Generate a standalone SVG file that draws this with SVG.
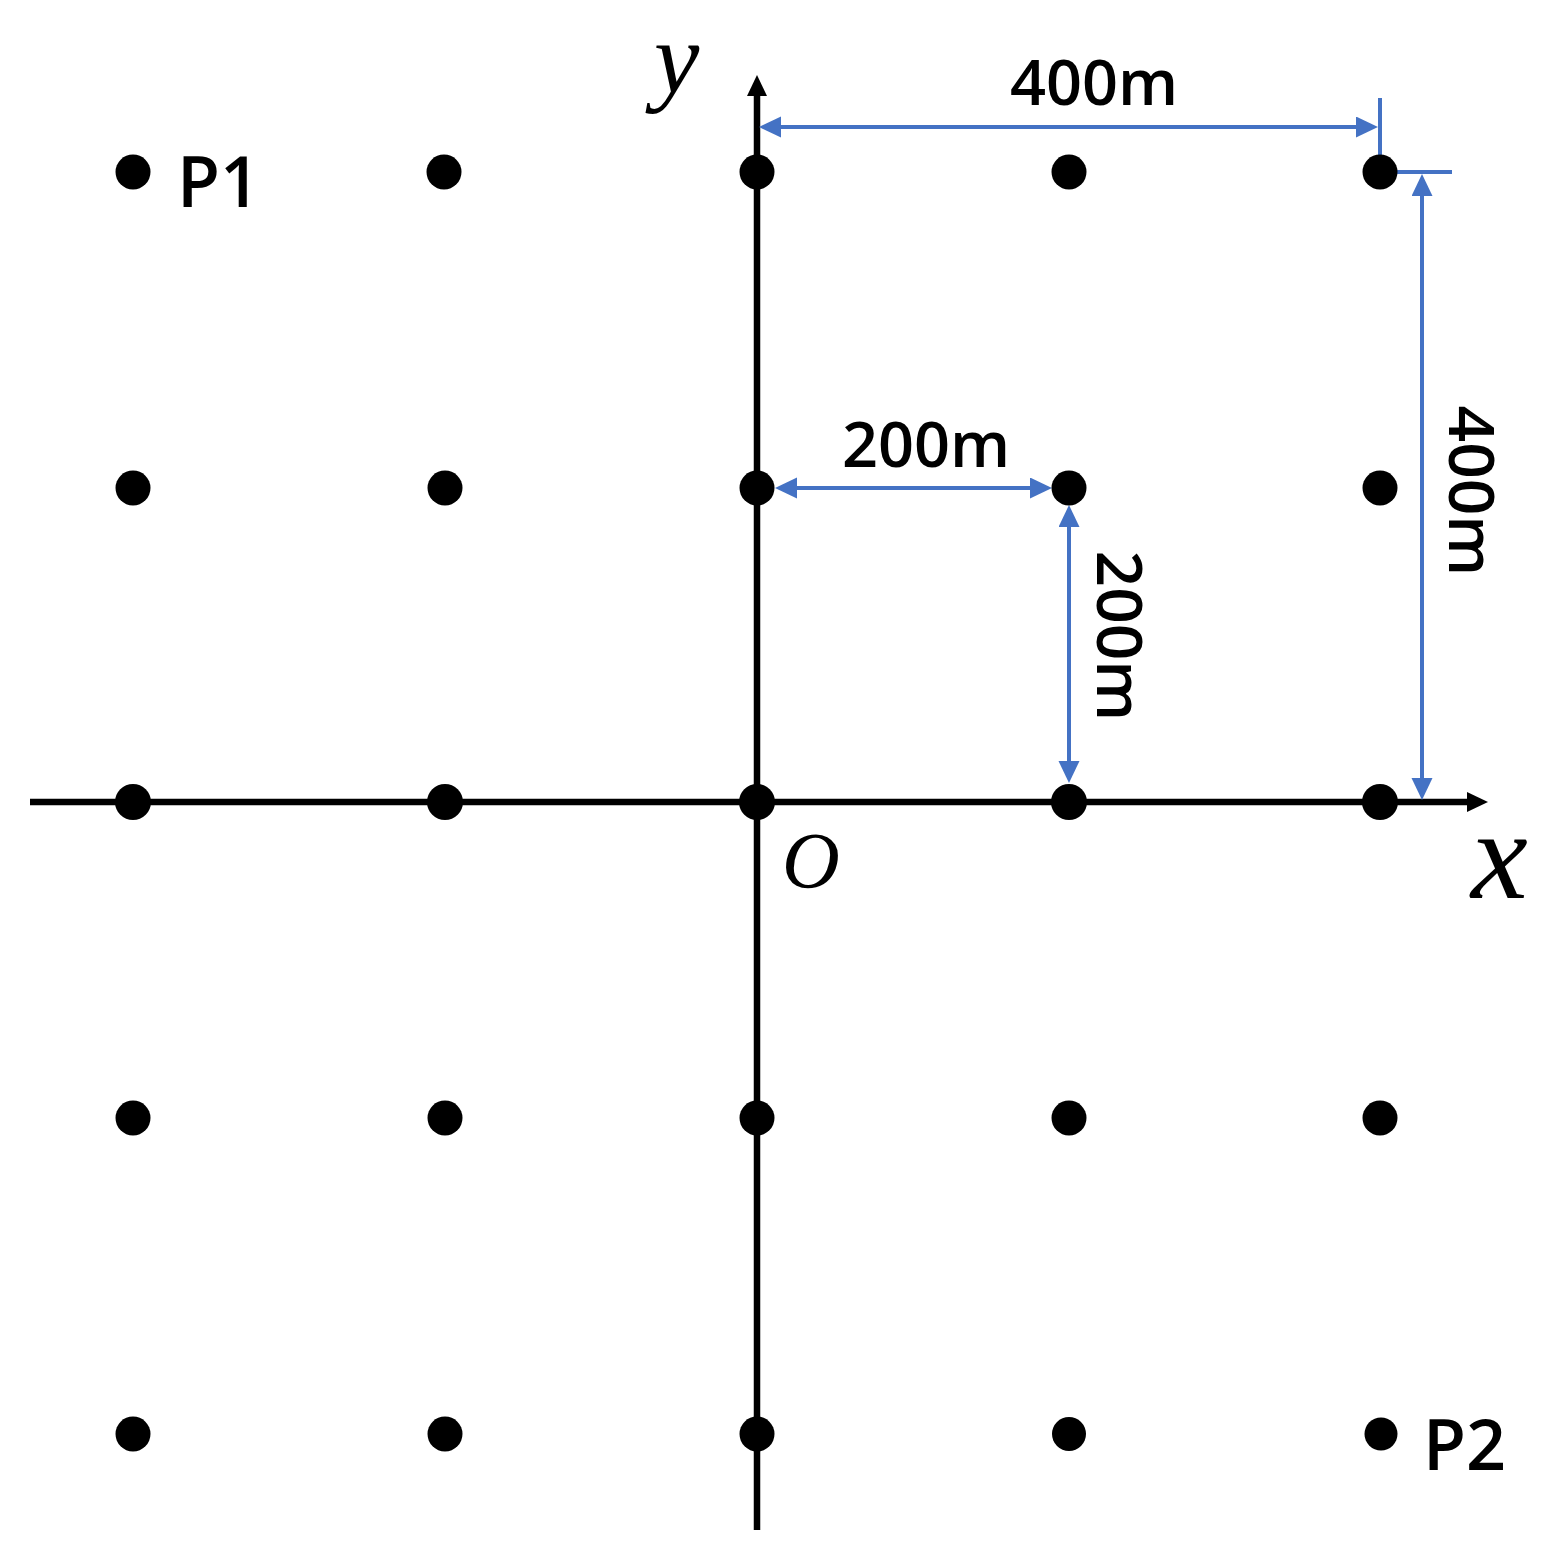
<svg xmlns="http://www.w3.org/2000/svg" width="1558" height="1555" viewBox="0 0 1558 1555">
<style>
.dot{fill:#000}
.axis{stroke:#000;stroke-width:6.5;fill:none}
.dim{stroke:#4472C4;stroke-width:4;fill:none}
.lbl{font-family:"Open Sans","Noto Sans","Liberation Sans",sans-serif;font-weight:600;fill:#000}
.math{font-family:"Liberation Serif","DejaVu Serif",serif;font-style:italic;fill:#000}
</style>
<defs>
<marker id="ab" markerUnits="userSpaceOnUse" markerWidth="22" markerHeight="21" refX="0" refY="10" orient="auto-start-reverse" viewBox="0 0 22 21">
<path d="M0,0 L21,10 L0,20 z" fill="#000"/>
</marker>
<marker id="bl" markerUnits="userSpaceOnUse" markerWidth="23" markerHeight="22" refX="0" refY="10.5" orient="auto-start-reverse" viewBox="0 0 23 22">
<path d="M0,0 L22,10.5 L0,21 z" fill="#4472C4"/>
</marker>
</defs>
<rect width="1558" height="1555" fill="#fff"/>
<g id="connectors">
<path class="axis" d="M30,802 H1467" marker-end="url(#ab)"/>
<path class="axis" d="M757,1530 V96" marker-end="url(#ab)"/>
<path class="dim" d="M781,127 H1356" marker-start="url(#bl)" marker-end="url(#bl)"/>
<path class="dim" d="M1380,98 V157"/>
<path class="dim" d="M1397,172 H1452"/>
<path class="dim" d="M1422,196 V778" marker-start="url(#bl)" marker-end="url(#bl)"/>
<path class="dim" d="M797,488 H1030" marker-start="url(#bl)" marker-end="url(#bl)"/>
<path class="dim" d="M1069,527 V761" marker-start="url(#bl)" marker-end="url(#bl)"/>
</g>
<g id="dots">
<circle class="dot" cx="133" cy="172" r="17.5"/><circle class="dot" cx="444" cy="172" r="17.5"/><circle class="dot" cx="757" cy="172" r="17.5"/><circle class="dot" cx="1069" cy="172" r="17.5"/><circle class="dot" cx="1380" cy="172" r="17.5"/>
<circle class="dot" cx="133" cy="488" r="17.5"/><circle class="dot" cx="445" cy="488" r="17.5"/><circle class="dot" cx="757" cy="488" r="17.5"/><circle class="dot" cx="1069" cy="488" r="17.5"/><circle class="dot" cx="1380" cy="488" r="17.5"/>
<circle class="dot" cx="133" cy="802" r="18"/><circle class="dot" cx="445" cy="802" r="18"/><circle class="dot" cx="757" cy="802" r="18"/><circle class="dot" cx="1069" cy="802" r="18"/><circle class="dot" cx="1380" cy="802" r="18"/>
<circle class="dot" cx="133" cy="1118" r="17.5"/><circle class="dot" cx="445" cy="1118" r="17.5"/><circle class="dot" cx="757" cy="1118" r="17.5"/><circle class="dot" cx="1069" cy="1118" r="17.5"/><circle class="dot" cx="1380" cy="1118" r="17.5"/>
<circle class="dot" cx="133" cy="1434" r="17.5"/><circle class="dot" cx="445" cy="1434" r="17.5"/><circle class="dot" cx="757" cy="1434" r="17.5"/><circle class="dot" cx="1069" cy="1434" r="17"/><circle class="dot" cx="1381" cy="1434" r="16.5"/>
</g>
<g id="labels">
<text class="lbl" x="177" y="207" font-size="70">P1</text>
<text class="lbl" x="1423" y="1470" font-size="70">P2</text>
<text class="lbl" x="1094" y="105" font-size="63" text-anchor="middle">400m</text>
<text class="lbl" x="926" y="467" font-size="63" text-anchor="middle">200m</text>
<text class="lbl" font-size="64" text-anchor="middle" transform="translate(1449,491) rotate(90)">400m</text>
<text class="lbl" font-size="64" text-anchor="middle" transform="translate(1097,636) rotate(90)">200m</text>
<text class="math" x="654" y="92" font-size="102">y</text>
<text class="math" x="1471" y="898" font-size="128">x</text>
<text class="math" x="782" y="888" font-size="80">O</text>
</g>
</svg>
